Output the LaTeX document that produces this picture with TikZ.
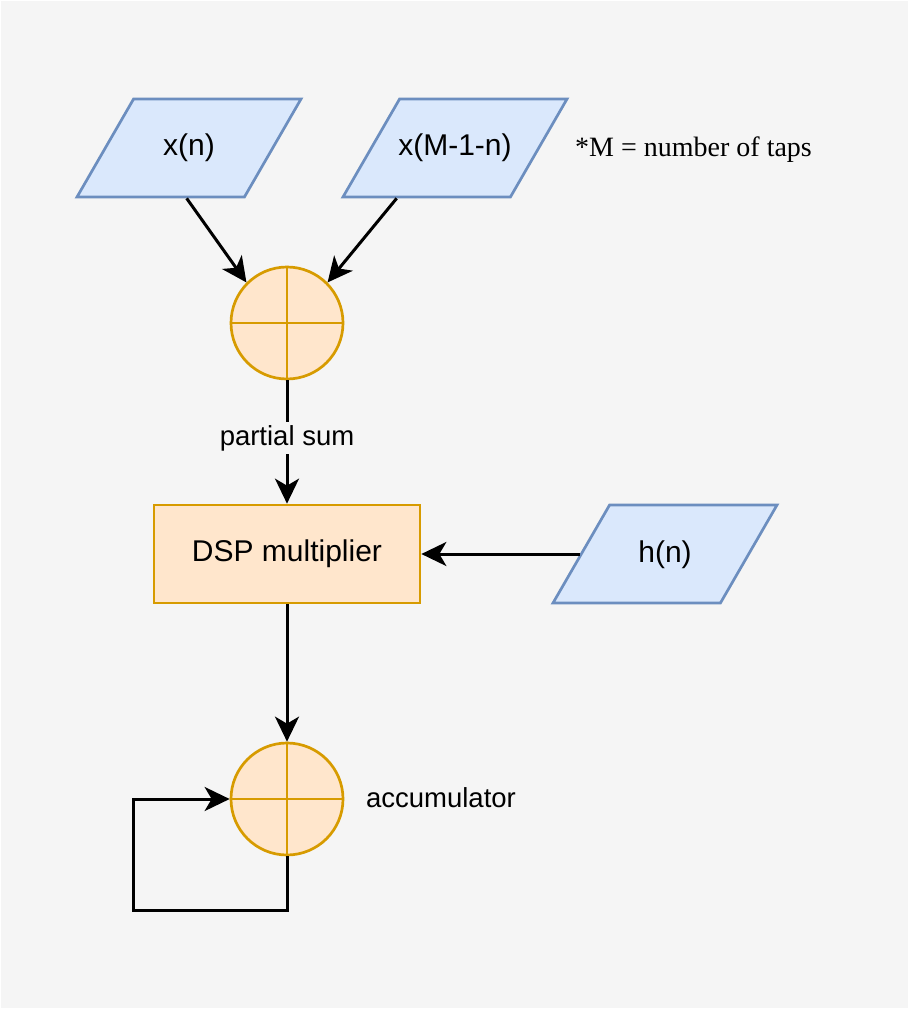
\documentclass[tikz,border=0pt]{standalone}
\usepackage{fontspec}
\setmainfont{Liberation Sans}
\newfontfamily\notefont{Liberation Serif}
\usetikzlibrary{arrows.meta,shapes.geometric}
\definecolor{bgray}{HTML}{F5F5F5}
\definecolor{inblue}{HTML}{6C8EBF}
\definecolor{inbluefill}{HTML}{DAE8FC}
\definecolor{opline}{HTML}{D79B00}
\definecolor{opfill}{HTML}{FFE6CC}
\tikzset{
  input/.style={trapezium, trapezium left angle=60, trapezium right angle=120,
    trapezium stretches body=true, text height=22pt, text depth=6pt,
    inner ysep=35pt, inner xsep=-2pt, minimum width=224pt, minimum height=98pt,
    draw=inblue, fill=inbluefill, line width=2.7pt, font=\fontsize{30}{36}\selectfont},
  adder/.style={circle, minimum size=112pt, inner sep=0pt, draw=opline, fill=opfill, line width=2.7pt},
  block/.style={rectangle, minimum width=266pt, minimum height=98pt,
    draw=opline, fill=opfill, line width=2.7pt, font=\fontsize{30}{36}\selectfont},
  wire/.style={-{Stealth[length=25pt,width=24pt,inset=7pt]}, line width=3pt, black},
  tag/.style={font=\fontsize{27.5}{33}\selectfont}
}
\begin{document}
\begin{tikzpicture}[x=1pt,y=-1pt]
            \useasboundingbox (0,0) rectangle (910,1011);
            \fill[bgray] (1,1) rectangle (908,1008);
            \node[input](X) at (189,148) {x(n)};
            \node[input](M) at (455,148) {x(M-1-n)};
            \node[input](H) at (665,554) {h(n)};
            \node[adder](P) at (287,323) {};
            \node[block](D) at (287,554) {DSP multiplier};
            \node[adder](A) at (287,799) {};
            \node[anchor=west, inner sep=0pt, font=\notefont\fontsize{28}{34}\selectfont](N) at (575,150) {*M = number of taps};
            \node[tag](T) at (441,798) {accumulator};
            \coordinate (L) at (133,910);
            % plus signs
            \draw[opline, line width=2.7pt] (P.north) -- (P.south) (P.west) -- (P.east)
                                             (A.north) -- (A.south) (A.west) -- (A.east);
            \path
                ([xshift=112pt]X.bottom left corner) edge [wire] (P.135)
                ([xshift=56pt]M.bottom left corner)  edge [wire] (P.45)
                (P) edge [wire] node [tag, fill=bgray, inner sep=3pt, pos=0.47] {partial sum} (D)
                (H.left side) edge [wire] (D.east)
                (D) edge [wire] (A)
                ;
            \draw[wire] (A.south) |- (L) |- (A.west);
        \end{tikzpicture}
\end{document}
